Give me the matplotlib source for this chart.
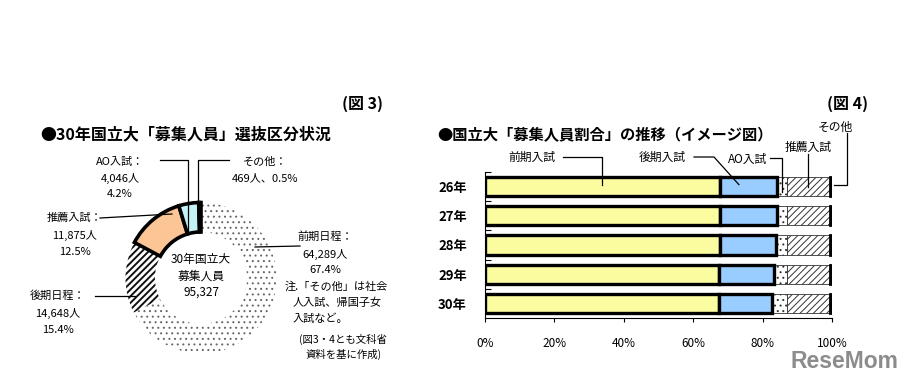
import matplotlib
matplotlib.use("Agg")
import matplotlib.pyplot as plt
import numpy as np
from matplotlib.lines import Line2D

plt.rcParams['font.family'] = ['Noto Sans CJK JP', 'DejaVu Sans']
plt.rcParams['hatch.linewidth'] = 0.7

# ---- data: fig 3 (donut) ----
d_names = ['前期日程', '後期日程', '推薦入試', 'AO入試', 'その他']
d_counts = [64289, 14648, 11875, 4046, 469]
d_pcts = [67.4, 15.4, 12.5, 4.2, 0.5]
d_total = 95327

# ---- data: fig 4 (stacked bars, % share) ----
years = ['26年', '27年', '28年', '29年', '30年']
zenki = [67.7, 67.6, 67.6, 67.5, 67.4]
kouki = [16.4, 16.5, 16.2, 15.7, 15.4]
ao = [2.9, 2.9, 3.2, 3.8, 4.2]
suisen = [12.4, 12.4, 12.5, 12.5, 12.5]
sonota = [0.6, 0.6, 0.5, 0.5, 0.5]
b_names = ['前期入試', '後期入試', 'AO入試', '推薦入試', 'その他']
x_ticks = [0, 20, 40, 60, 80, 100]

W, H = 906, 382
fig = plt.figure(figsize=(W / 100, H / 100), dpi=100)


def px(x, y):
    # pixel position (from top-left) -> figure fraction
    return x / W, 1 - y / H


def ftext(x, y, s, **kw):
    kw.setdefault('fontsize', 8)
    kw.setdefault('ha', 'center')
    kw.setdefault('va', 'center')
    fig.text(*px(x, y), s, **kw)


def fline(pts, lw=0.9):
    xs = [p[0] / W for p in pts]
    ys = [1 - p[1] / H for p in pts]
    fig.add_artist(Line2D(xs, ys, transform=fig.transFigure, color='black', lw=lw))


def to_px(ax, x, y):
    dx, dy = ax.transData.transform((x, y))
    return dx, H - dy


# ================= donut =================
cx, cy, r = 201, 278, 77
ax1 = fig.add_axes([(cx - r) / W, (H - cy - r) / H, 2 * r / W, 2 * r / H])
wedges, _ = ax1.pie(d_counts, startangle=90, counterclock=False, radius=1,
                    wedgeprops=dict(width=0.39))
ax1.set_xlim(-1.02, 1.02)
ax1.set_ylim(-1.02, 1.02)
styles = [
    dict(facecolor='white', edgecolor='#666666', hatch='...', lw=0, hlw=0.7),
    dict(facecolor='white', edgecolor='#111111', hatch='/////', lw=0, hlw=1.4),
    dict(facecolor='#fbc596', edgecolor='black', lw=2.6),
    dict(facecolor='#c4f3f7', edgecolor='black', lw=2.6),
    dict(facecolor='black', edgecolor='black', lw=2.6),
]
for w, st in zip(wedges, styles):
    w.set_facecolor(st['facecolor'])
    w.set_edgecolor(st['edgecolor'])
    w.set_linewidth(st['lw'])
    if 'hatch' in st:
        w.set_hatch(st['hatch'])
        if hasattr(w, 'set_hatch_linewidth'):
            w.set_hatch_linewidth(st['hlw'])
    else:
        w.set_zorder(3)

ftext(201, 260, '30年国立大', fontsize=8.5)
ftext(201, 276, '募集人員', fontsize=8.5)
ftext(201, 292, f'{d_total:,}', fontsize=8.5)

# labels around donut
ftext(120, 162, d_names[3] + '：')
ftext(120, 178, f'{d_counts[3]:,}人')
ftext(120, 194, f'{d_pcts[3]}%')
fline([(160, 160), (188, 160), (188, 232)])

ftext(265, 162, d_names[4] + '：')
ftext(265, 178, f'{d_counts[4]:,}人、{d_pcts[4]}%')
fline([(229, 160), (198, 160), (198, 205)])

ftext(75, 218, d_names[2] + '：')
ftext(75, 235, f'{d_counts[2]:,}人')
ftext(75, 252, f'{d_pcts[2]}%')
fline([(100, 218), (172, 214)])

ftext(58, 296, d_names[1] + '：')
ftext(58, 313, f'{d_counts[1]:,}人')
ftext(58, 330, f'{d_pcts[1]}%')
fline([(95, 296), (135, 296)])

ftext(325, 237, d_names[0] + '：')
ftext(325, 254, f'{d_counts[0]:,}人')
ftext(325, 270, f'{d_pcts[0]}%')
fline([(255, 247), (300, 246)])

ftext(285, 287, '注.「その他」は社会', ha='left')
ftext(293, 303, '人入試、帰国子女', ha='left')
ftext(293, 319, '入試など。', ha='left')
ftext(299, 339, '(図3・4とも文科省', ha='left', fontsize=7.5)
ftext(306, 354, '資料を基に作成)', ha='left', fontsize=7.5)

ftext(40, 134, '●30年国立大「募集人員」選抜区分状況', ha='left', fontsize=11.5, fontweight='bold')
ftext(362, 104, '(図 3)', fontsize=11.5, fontweight='bold')

# ================= stacked bars =================
x0, x1, y0, y1 = 485, 832, 172, 318
ax2 = fig.add_axes([x0 / W, (H - y1) / H, (x1 - x0) / W, (y1 - y0) / H])
ypos = np.arange(len(years))
bh = 0.66
series = [zenki, kouki, ao, suisen, sonota]
bstyles = [
    dict(color='#fbfba0', edgecolor='black', linewidth=2.4),
    dict(color='#99ccff', edgecolor='black', linewidth=2.4),
    dict(color='white', edgecolor='#333333', linewidth=0.6, hatch='...'),
    dict(color='white', edgecolor='#333333', linewidth=0.6, hatch='/////'),
    dict(color='black', edgecolor='black', linewidth=2),
]
left = np.zeros(len(years))
zs = [3, 3, 2, 2, 2]
for vals, st, z in zip(series, bstyles, zs):
    ax2.barh(ypos, vals, left=left, height=bh, zorder=z, **st)
    left += np.array(vals)

ax2.set_xlim(0, 100)
ax2.set_ylim(len(years) - 0.5, -0.5)
ax2.set_xticks(x_ticks)
ax2.set_xticklabels([f'{t}%' for t in x_ticks], fontsize=8.5)
ax2.set_yticks(ypos)
ax2.set_yticklabels(years, fontsize=9.5, fontweight='bold')
ax2.set_yticks(ypos - 0.5, minor=True)
ax2.tick_params(axis='y', which='major', length=0, pad=13)
ax2.tick_params(axis='y', which='minor', length=4, direction='in', width=0.8)
ax2.tick_params(axis='x', length=3, width=0.8, pad=11)
for s in ['top', 'right']:
    ax2.spines[s].set_visible(False)
ax2.spines['left'].set_linewidth(0.8)
ax2.spines['bottom'].set_linewidth(0.8)

# annotations for first row
c = np.cumsum([s[0] for s in series])
starts = np.concatenate([[0], c[:-1]])
tx, ty = to_px(ax2, zenki[0] / 2, 0)
ftext(532, 157, b_names[0], fontsize=8.5)
fline([(563, 157), (tx, 157), (tx, ty - 2)])

tx, ty = to_px(ax2, starts[1] + kouki[0] / 3, 0)
ftext(662, 157, b_names[1], fontsize=8.5)
fline([(694, 157), (714, 157), (tx, ty - 2)])

tx, ty = to_px(ax2, starts[2] + ao[0] / 2, 0)
ftext(748, 159, b_names[2], fontsize=8.5)
fline([(770, 158), (tx, 158), (tx, ty + 5)])

tx, ty = to_px(ax2, starts[3] + suisen[0] / 2, 0)
ftext(808, 147, b_names[3], fontsize=8.5)
fline([(tx, 154), (tx, ty)])

tx, ty = to_px(ax2, 100, 0)
ftext(835, 127, b_names[4], fontsize=8.5)
fline([(847, 133), (847, ty - 2), (tx + 2, ty - 2)])

ftext(437, 135, '●国立大「募集人員割合」の推移（イメージ図）', ha='left', fontsize=11, fontweight='bold')
ftext(848, 104, '(図 4)', fontsize=11.5, fontweight='bold')

fig.text(*px(844, 362), 'ReseMom', fontsize=16.5, fontweight='bold', color='#8c8c8c',
         ha='center', va='center', family='Liberation Sans')

fig.savefig('out.png', dpi=100)
